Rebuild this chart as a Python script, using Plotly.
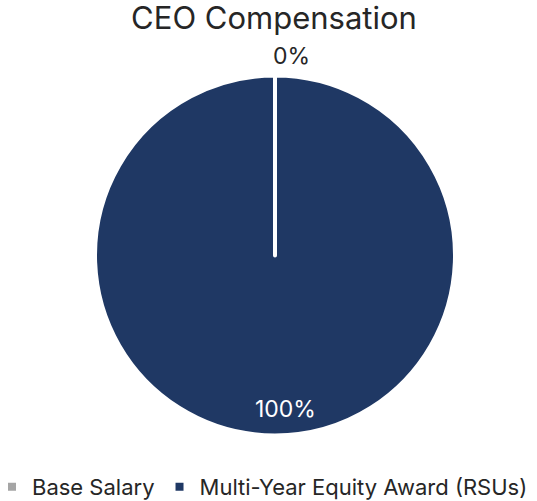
import plotly.graph_objects as go

categories = ["Base Salary", "Multi-Year Equity Award (RSUs)"]
values = [0.001, 100]
colors = ["#A5A5A5", "#1F3864"]

total = sum(values)
pct_labels = [f"{round(v / total * 100):.0f}%" for v in values]

fig = go.Figure(go.Pie(
    labels=categories,
    values=values,
    sort=False,
    direction="clockwise",
    rotation=0,
    marker=dict(colors=colors, line=dict(color="white", width=4)),
    textinfo="none",
    hoverinfo="label+percent",
    domain=dict(x=[95 / 537, 455 / 537], y=[1 - 436 / 501, 1 - 75 / 501]),
))

fig.add_annotation(text=pct_labels[0], x=291 / 537, y=1 - 56 / 501, xref="paper", yref="paper",
                   xanchor="center", yanchor="middle",
                   showarrow=False, font=dict(size=23, color="#262626"))
fig.add_annotation(text=pct_labels[1], x=285 / 537, y=1 - 409 / 501, xref="paper", yref="paper",
                   xanchor="center", yanchor="middle",
                   showarrow=False, font=dict(size=23, color="white"))

fig.update_layout(
    width=537, height=501,
    title=dict(text="CEO Compensation", x=274 / 537, xanchor="center", xref="paper",
               y=1 - 18 / 501, yanchor="middle", yref="container",
               font=dict(size=31, color="#262626")),
    font=dict(family="Inter", color="#262626", size=20),
    margin=dict(l=0, r=0, t=0, b=0, autoexpand=False),
    paper_bgcolor="white",
    showlegend=True,
    legend=dict(orientation="h", x=-8 / 537, xanchor="left", y=-7 / 501, yanchor="bottom",
                font=dict(size=22, color="#262626"), itemwidth=30),
)

fig.write_html(
    "out.html",
    config={"displayModeBar": False},
    post_script="document.body.style.margin='0';document.body.style.overflow='hidden';",
)
